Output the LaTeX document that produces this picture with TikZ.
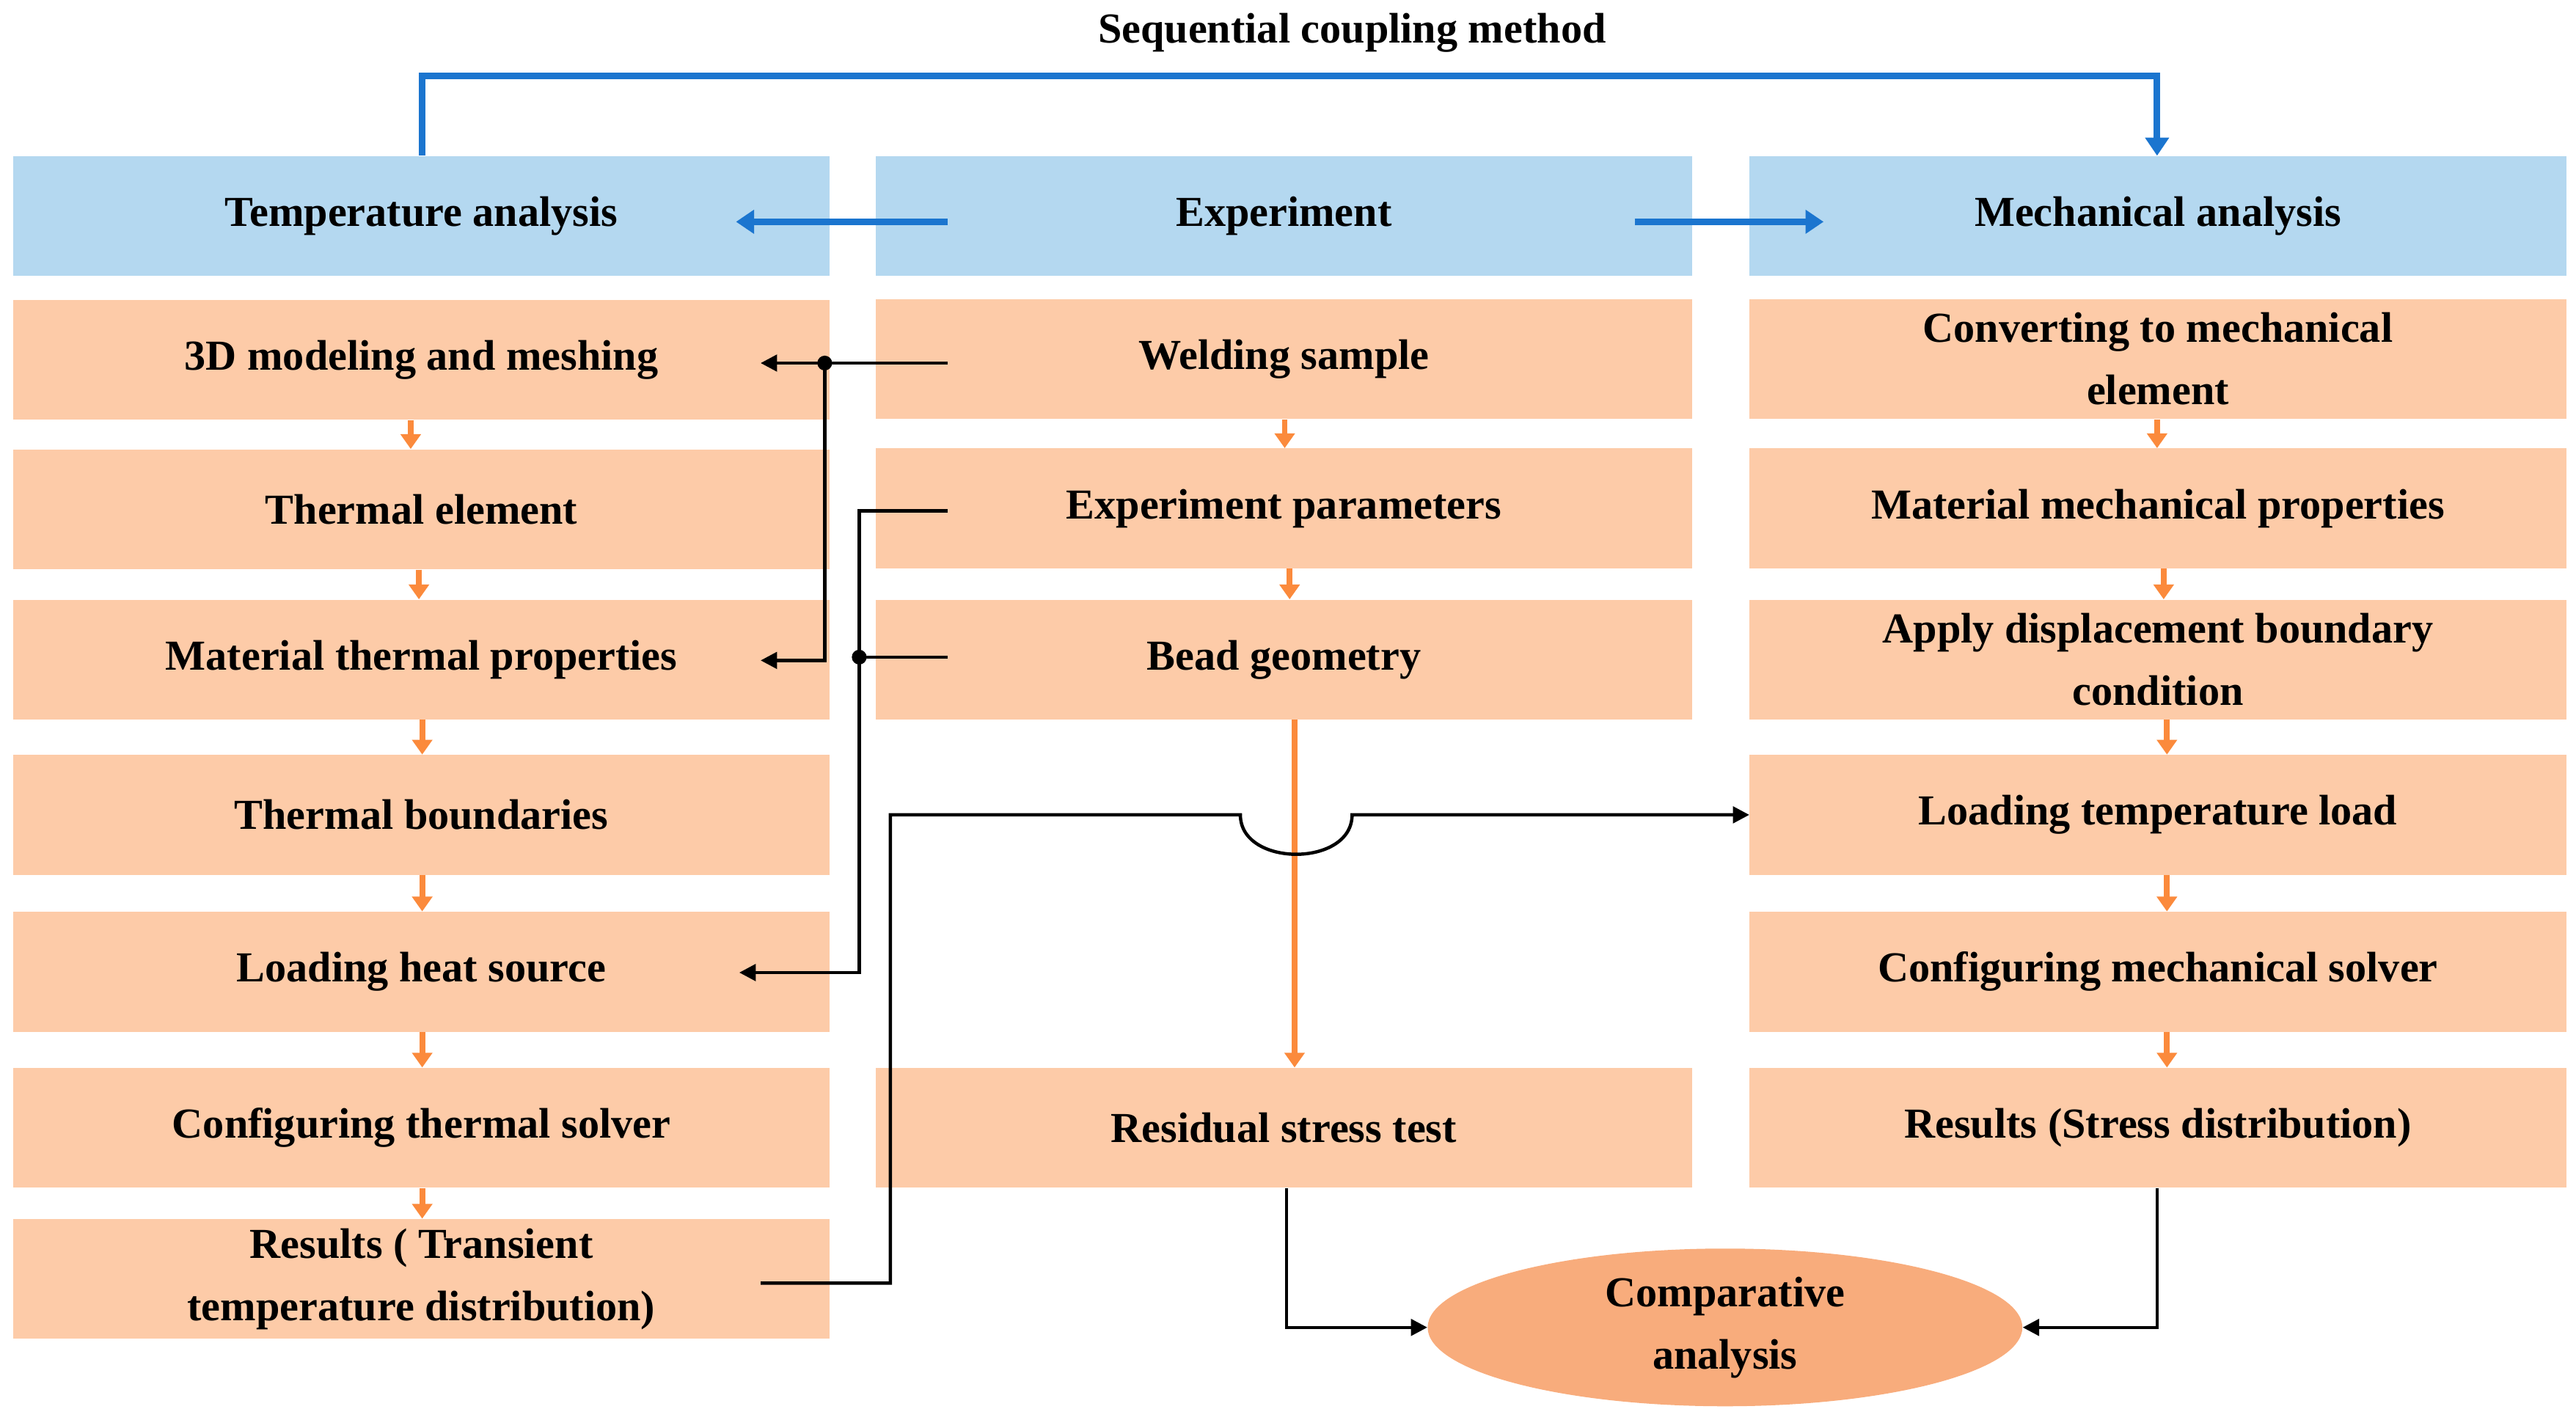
\documentclass[tikz,border=0pt]{standalone}
\usepackage{fontspec}
\setmainfont{Liberation Serif}
\usetikzlibrary{arrows.meta,shapes.geometric}
\definecolor{hb}{HTML}{B4D8F0}
\definecolor{ob}{HTML}{FDCBA8}
\definecolor{oa}{HTML}{FB8A3C}
\definecolor{ba}{HTML}{1B75CF}
\definecolor{el}{HTML}{F8AC7C}
\begin{document}
\begin{tikzpicture}[x=1pt,y=-1pt,
 box/.style={fill=ob,draw=none,minimum width=497pt,minimum height=73pt,inner sep=0pt,align=center,font=\fontsize{26}{38}\selectfont\bfseries},
 hbox/.style={box,fill=hb},
 oarr/.style={draw=oa,line width=3.5pt,-{Triangle[length=9pt,width=12pt]}},
 barr/.style={draw=ba,line width=4pt,-{Triangle[length=11pt,width=14pt]}},
 karr/.style={draw=black,line width=2pt,-{Triangle[length=10pt,width=10pt]}},
 kl/.style={draw=black,line width=2pt}]
\useasboundingbox (0,0) rectangle (1568,864);
\node[font=\fontsize{26}{30}\selectfont\bfseries] (title) at (823,20) {Sequential coupling method};
% headers
\node[hbox] (T) at (256.5,131.5) {Temperature analysis};
\node[hbox] (E) at (781.5,131.5) {Experiment};
\node[hbox] (M) at (1313.5,131.5) {Mechanical analysis};
% left
\node[box] (L1) at (256.5,219) {3D modeling and meshing};
\node[box] (L2) at (256.5,310) {Thermal element};
\node[box] (L3) at (256.5,401.5) {Material thermal properties};
\node[box] (L4) at (256.5,496) {Thermal boundaries};
\node[box] (L5) at (256.5,591.5) {Loading heat source};
\node[box] (L6) at (256.5,686.5) {Configuring thermal solver};
\node[box] (L7) at (256.5,778.5) {Results ( Transient\\temperature distribution)};
% middle
\node[box] (C1) at (781.5,218.5) {Welding sample};
\node[box] (C2) at (781.5,309.5) {Experiment parameters};
\node[box] (C3) at (781.5,401.5) {Bead geometry};
\node[box] (C4) at (781.5,686.5) {Residual stress test};
% right
\node[box] (R1) at (1313.5,218.5) {Converting to mechanical\\element};
\node[box] (R2) at (1313.5,309.5) {Material mechanical properties};
\node[box] (R3) at (1313.5,401.5) {Apply displacement boundary\\condition};
\node[box] (R4) at (1313.5,496) {Loading temperature load};
\node[box] (R5) at (1313.5,591.5) {Configuring mechanical solver};
\node[box] (R6) at (1313.5,686.5) {Results (Stress distribution)};
\node[ellipse,fill=el,minimum width=362pt,minimum height=96pt,inner sep=0pt,align=center,font=\fontsize{26}{38}\selectfont\bfseries] (CA) at (1050,808) {Comparative\\analysis};
% blue
\draw[barr] (T.north -| 257,0) -- (257,46) -- (1313,46) -- (M.north -| 1313,0);
\draw[barr] (577,135) -- (448,135);
\draw[barr] (995,135) -- (1110,135);
% orange left
\foreach \a/\b/\x in {L1/L2/250,L2/L3/255,L3/L4/257,L4/L5/257,L5/L6/257,L6/L7/257}
  \draw[oarr] (\a.south -| \x,0) -- (\b.north -| \x,0);
\foreach \a/\b/\x in {C1/C2/782,C2/C3/785}
  \draw[oarr] (\a.south -| \x,0) -- (\b.north -| \x,0);
\draw[oarr] (C3.south -| 788,0) -- (C4.north -| 788,0);
\foreach \a/\b/\x in {R1/R2/1313,R2/R3/1317,R3/R4/1319,R4/R5/1319,R5/R6/1319}
  \draw[oarr] (\a.south -| \x,0) -- (\b.north -| \x,0);
% black connectors
\coordinate (d1) at (502,221);
\coordinate (d2) at (523,400);
\draw[karr] (577,221) -- (463,221);
\draw[karr] (d1) -- (502,402) -- (463,402);
\draw[kl] (577,311) -- (523,311) -- (523,400);
\draw[karr] (523,400) -- (523,592) -- (450,592);
\draw[kl] (577,400) -- (d2);
\fill (d1) circle (4.5pt);
\fill (d2) circle (4.5pt);
\draw[karr] (463,781) -- (542,781) -- (542,496) -- (755,496) .. controls (755,528) and (823,528) .. (823,496) -- (R4.west);
\draw[karr] (C4.south -| 783,0) -- (783,808) -- (CA.west);
\draw[karr] (R6.south -| 1313,0) -- (1313,808) -- (CA.east);
\end{tikzpicture}
\end{document}
